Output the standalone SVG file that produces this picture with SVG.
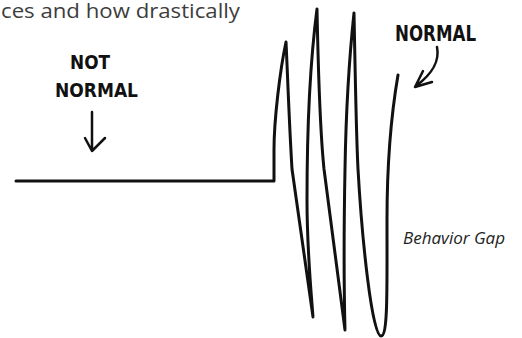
<svg xmlns="http://www.w3.org/2000/svg" width="522" height="338" viewBox="0 0 522 338">
<style>
.hand{font-family:"Liberation Sans Narrow","DejaVu Sans Condensed",sans-serif;font-weight:bold;fill:#111}
.ink{fill:none;stroke:#111;stroke-linecap:round;stroke-linejoin:round}
</style>
<rect width="522" height="338" fill="#fff"/>
<text x="1" y="18" font-family="'Open Sans',sans-serif" font-size="20" fill="#3d3d3d" textLength="239" lengthAdjust="spacingAndGlyphs">ces and how drastically</text>
<g id="wave">
<path class="ink" stroke-width="3" d="M16,181 H274 V150 C274,120 280,70 286,42 C287,60 289,120 292,169 L313,317 C311,290 307,250 307,200 C307,150 309,70 317,9 C318,60 320,130 324,169 L345,330 C344,290 344,220 345,169 C346,110 349,60 354,13 C355,60 356,130 358,169 C362,240 372,336 381,336 C388,336 387,290 387,220 C387,160 392,110 398,75"/>
</g>
<g id="not-normal">
<text class="hand" x="70" y="69" font-size="19" textLength="40" lengthAdjust="spacingAndGlyphs">NOT</text>
<text class="hand" x="55" y="97" font-size="20" textLength="83" lengthAdjust="spacingAndGlyphs">NORMAL</text>
</g>
<g id="normal">
<text class="hand" x="395" y="41" font-size="21" textLength="81" lengthAdjust="spacingAndGlyphs">NORMAL</text>
</g>
<g id="behavior-gap">
<text x="403" y="244" font-family="'Open Sans',sans-serif" font-style="italic" font-size="17" fill="#222" textLength="102" lengthAdjust="spacingAndGlyphs">Behavior Gap</text>
</g>
<g id="connectors">
<path class="ink" stroke-width="2.5" d="M92,112 V150 M85,138 L92,151 L105,138"/>
<path class="ink" stroke-width="2.5" d="M437,47 C440,62 432,74 416,86 M423,71 L415,87 L432,82"/>
</g>
</svg>
